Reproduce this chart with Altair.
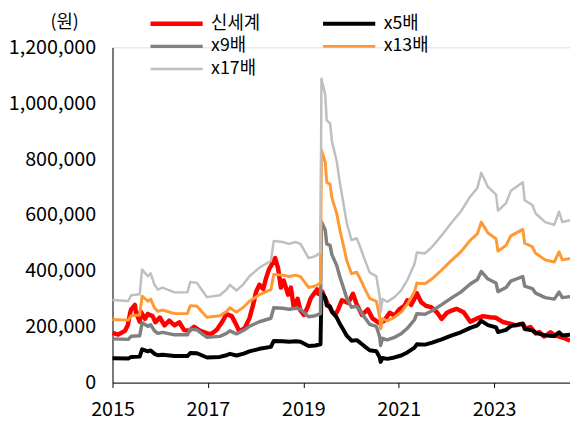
import altair as alt
import pandas as pd

# ---- data (years as decimal years, values in KRW) ----
price_years = [2015.00, 2015.12, 2015.26, 2015.32, 2015.37, 2015.39, 2015.47, 2015.49, 2015.57, 2015.59,
               2015.68, 2015.74, 2015.84, 2015.90, 2015.99, 2016.09, 2016.19, 2016.30, 2016.40, 2016.50,
               2016.61, 2016.71, 2016.83, 2016.98, 2017.08, 2017.19, 2017.29, 2017.39, 2017.50, 2017.60,
               2017.66, 2017.77, 2017.87, 2017.95, 2018.01, 2018.08, 2018.16, 2018.22, 2018.28, 2018.37,
               2018.41, 2018.47, 2018.53, 2018.59, 2018.68, 2018.74, 2018.80, 2018.88, 2018.94, 2019.01,
               2019.09, 2019.15, 2019.21, 2019.29, 2019.31, 2019.40, 2019.46, 2019.52, 2019.61, 2019.67,
               2019.73, 2019.81, 2019.94, 2020.04, 2020.12, 2020.23, 2020.35, 2020.45, 2020.60, 2020.70,
               2020.81, 2020.91, 2021.01, 2021.12, 2021.18, 2021.26, 2021.36, 2021.38, 2021.47, 2021.57,
               2021.68, 2021.80, 2021.90, 2022.01, 2022.11, 2022.21, 2022.36, 2022.50, 2022.62, 2022.77,
               2022.91, 2023.04, 2023.18, 2023.33, 2023.45, 2023.60, 2023.66, 2023.76, 2023.87, 2023.95,
               2024.05, 2024.18, 2024.28, 2024.38, 2024.49, 2024.59]
price_values = [178000, 172000, 185000, 205000, 250000, 262000, 278000, 252000, 218000, 255000,
                228000, 246000, 238000, 216000, 233000, 205000, 222000, 205000, 216000, 188000,
                186000, 200000, 186000, 176000, 175000, 190000, 215000, 245000, 238000, 205000,
                183000, 195000, 230000, 280000, 325000, 350000, 335000, 375000, 405000, 432000,
                446000, 410000, 340000, 365000, 315000, 340000, 268000, 300000, 258000, 242000,
                270000, 300000, 315000, 334000, 318000, 325000, 300000, 278000, 252000, 242000,
                262000, 295000, 285000, 318000, 280000, 242000, 262000, 230000, 212000, 222000,
                250000, 240000, 262000, 275000, 295000, 278000, 310000, 320000, 288000, 275000,
                270000, 252000, 228000, 250000, 258000, 264000, 252000, 218000, 228000, 238000,
                234000, 232000, 217000, 211000, 205000, 211000, 193000, 199000, 176000, 181000,
                165000, 180000, 169000, 164000, 158000, 150000]

band_years = [2015.00, 2015.33, 2015.39, 2015.57, 2015.62, 2015.74, 2015.80, 2015.88, 2015.95, 2016.05,
              2016.30, 2016.57, 2016.63, 2016.77, 2016.88, 2016.98, 2017.25, 2017.39, 2017.46, 2017.60,
              2017.75, 2017.87, 2018.08, 2018.32, 2018.38, 2018.57, 2018.70, 2018.84, 2018.94, 2019.11,
              2019.25, 2019.36, 2019.38, 2019.46, 2019.49, 2019.56, 2019.60, 2019.70, 2019.77, 2019.83,
              2019.91, 2020.01, 2020.12, 2020.19, 2020.29, 2020.39, 2020.53, 2020.60, 2020.62, 2020.66,
              2020.76, 2020.91, 2021.05, 2021.18, 2021.33, 2021.38, 2021.55, 2021.70, 2021.90, 2022.10,
              2022.30, 2022.50, 2022.65, 2022.73, 2022.87, 2023.04, 2023.08, 2023.25, 2023.35, 2023.60,
              2023.64, 2023.80, 2023.87, 2024.07, 2024.26, 2024.36, 2024.43, 2024.59]
# trailing EPS (KRW) behind the PER bands
eps_values = [17400, 17200, 18400, 18600, 23800, 22400, 23000, 20600, 19600, 20000,
              19000, 19000, 21200, 21000, 19400, 18000, 18400, 19600, 20600, 19400,
              20800, 22400, 24200, 25600, 29800, 29600, 29200, 29600, 29200, 26200,
              26600, 27400, 64000, 60600, 55200, 54600, 50800, 46600, 41800, 38400,
              33600, 30000, 30400, 28600, 25800, 23200, 22400, 18200, 14800, 17600,
              17000, 18000, 19400, 21600, 25000, 27400, 27200, 28600, 31000, 33600,
              36000, 39200, 41000, 44200, 41200, 39600, 36200, 37800, 40400, 42200,
              38400, 37400, 35600, 33800, 33200, 36000, 33800, 34200]
multiples = [5, 9, 13, 17]

series_names = ["신세계", "x5배", "x9배", "x13배", "x17배"]
series_colors = ["#FF0000", "#000000", "#808080", "#FF9933", "#BFBFBF"]
series_widths = [4.5, 2.5, 2.5, 2.5, 2.5]
x_ticks = [2015, 2017, 2019, 2021, 2023]
y_ticks = [0, 200000, 400000, 600000, 800000, 1000000, 1200000]

rows = []
for yr, v in zip(price_years, price_values):
    rows.append({"year": yr, "value": v, "series": series_names[0], "ord": 0})
for i, m in enumerate(multiples):
    for yr, e in zip(band_years, eps_values):
        rows.append({"year": yr, "value": e * m, "series": series_names[i + 1], "ord": i + 1})
df = pd.DataFrame(rows)

FONT = "Noto Sans CJK KR"

x_enc = alt.X("year:Q",
              scale=alt.Scale(domain=[2015, 2024.59], nice=False, zero=False),
              axis=alt.Axis(values=x_ticks, format="d", title=None, grid=False,
                            tickSize=5, labelPadding=12, labelFontSize=20, labelFlush=False,
                            domainColor="#000000", tickColor="#000000",
                            labelColor="#000000", labelFont=FONT))
y_enc = alt.Y("value:Q",
              scale=alt.Scale(domain=[0, 1200000], nice=False),
              axis=alt.Axis(values=y_ticks, format=",d", title="(원)", grid=False,
                            tickSize=0, labelPadding=17, labelFontSize=20, labelFlush=False,
                            domainColor="#000000", labelColor="#000000", labelFont=FONT,
                            titleAngle=0, titleX=-49, titleY=-25, titleAlign="center",
                            titleBaseline="middle", titleFontSize=18, titleFontWeight="normal",
                            titleFont=FONT, titleColor="#000000"))
legend_opts = dict(title=None, orient="none", legendX=56, legendY=-33,
                   columns=2, direction="horizontal", columnPadding=55, rowPadding=5,
                   symbolType="M-5,0H5", symbolSize=112,
                   labelFontSize=18, labelFont=FONT, labelColor="#000000", labelOffset=26)
color_enc = alt.Color("series:N",
                      scale=alt.Scale(domain=series_names, range=series_colors),
                      legend=alt.Legend(**legend_opts))
width_enc = alt.StrokeWidth("series:N",
                            scale=alt.Scale(domain=series_names, range=series_widths),
                            legend=alt.Legend(**legend_opts))

base = alt.Chart(df)
price_layer = base.transform_filter(alt.datum.ord == 0).mark_line(strokeJoin="round").encode(
    x=x_enc, y=y_enc, color=color_enc, strokeWidth=width_enc, detail="series:N")
band_layer = base.transform_filter(alt.datum.ord > 0).mark_line(strokeJoin="round").encode(
    x=x_enc, y=y_enc, color=color_enc, strokeWidth=width_enc, detail="series:N")

chart = alt.layer(price_layer, band_layer).properties(
    width=464, height=340,
    autosize=alt.AutoSizeParams(type="none"),
    padding={"left": 106, "top": 37, "right": 0, "bottom": 36},
).configure_view(strokeWidth=0).configure(background="#ffffff")

chart.save("out.html", embed_options={"renderer": "svg", "actions": False})
